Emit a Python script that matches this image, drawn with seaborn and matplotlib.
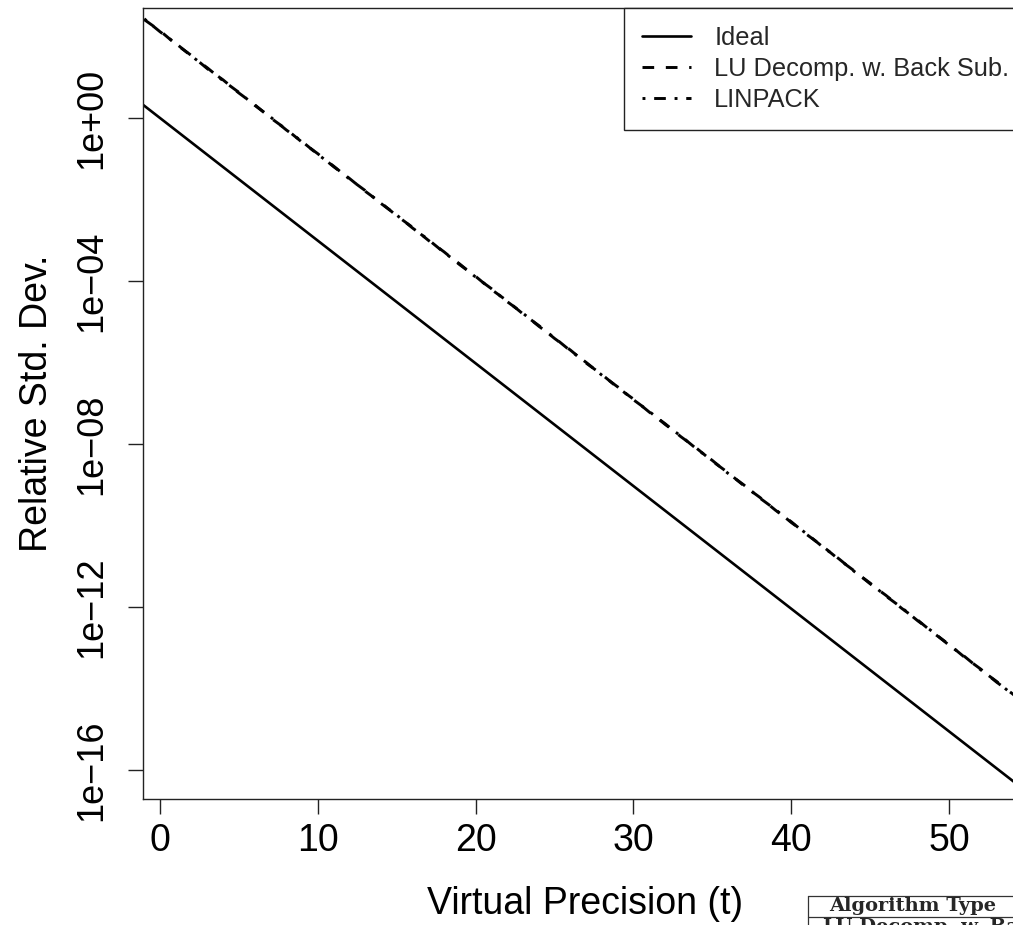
import matplotlib
import matplotlib.pyplot as plt
import pandas as pd
import seaborn as sns
from matplotlib.lines import Line2D

matplotlib.use("Agg")

# virtual precision (t) and relative std. dev.
t_vals = list(range(-1, 56))
lu_vals = [2.6e2, 1.38e2, 6.5e1, 3.4e1, 1.62e1, 8.6, 4.1, 2.12, 1.01, 5.3e-1,
           2.55e-1, 1.33e-1, 6.4e-2, 3.3e-2, 1.6e-2, 8.3e-3, 4.0e-3, 2.08e-3, 1.0e-3, 5.2e-4,
           2.5e-4, 1.3e-4, 6.2e-5, 3.25e-5, 1.56e-5, 8.1e-6, 3.9e-6, 2.03e-6, 9.7e-7, 5.1e-7,
           2.43e-7, 1.27e-7, 6.1e-8, 3.17e-8, 1.52e-8, 7.9e-9, 3.8e-9, 1.98e-9, 9.5e-10, 4.95e-10,
           2.38e-10, 1.24e-10, 5.95e-11, 3.1e-11, 1.49e-11, 7.7e-12, 3.72e-12, 1.94e-12, 9.3e-13, 4.84e-13,
           2.32e-13, 1.21e-13, 5.8e-14, 3.02e-14, 1.45e-14, 7.55e-15, 3.62e-15]
linpack_vals = [2.72e2, 1.31e2, 6.8e1, 3.28e1, 1.7e1, 8.2, 4.25, 2.05, 1.06, 5.1e-1,
                2.66e-1, 1.28e-1, 6.6e-2, 3.2e-2, 1.66e-2, 8.0e-3, 4.15e-3, 2.0e-3, 1.04e-3, 5.0e-4,
                2.6e-4, 1.25e-4, 6.5e-5, 3.12e-5, 1.62e-5, 7.8e-6, 4.05e-6, 1.95e-6, 1.01e-6, 4.9e-7,
                2.53e-7, 1.22e-7, 6.35e-8, 3.05e-8, 1.58e-8, 7.6e-9, 3.96e-9, 1.9e-9, 9.9e-10, 4.76e-10,
                2.47e-10, 1.19e-10, 6.2e-11, 2.98e-11, 1.55e-11, 7.45e-12, 3.87e-12, 1.86e-12, 9.65e-13, 4.65e-13,
                2.42e-13, 1.16e-13, 6.05e-14, 2.9e-14, 1.51e-14, 7.25e-15, 3.78e-15]
ideal_t = [-2, 56]
ideal_vals = [4.0, 1.39e-17]

labels = ["Ideal", "LU Decomp. w. Back Sub.", "LINPACK"]
x_ticks = [0, 10, 20, 30, 40, 50]
y_ticks = [1e-16, 1e-12, 1e-08, 1e-04, 1e+00]
y_tick_labels = ["1e\u221216", "1e\u221212", "1e\u221208", "1e\u221204", "1e+00"]

sns.set_style("white")
plt.rcParams["font.family"] = ["Liberation Sans", "DejaVu Sans"]

fig = plt.figure(figsize=(10.13, 9.25), dpi=100)
# axes run a little past the right edge of the picture (cropped like the source)
ax = fig.add_axes([143 / 1013, 1 - 799 / 925, 884 / 1013, 791 / 925])

ideal_df = pd.DataFrame({"t": ideal_t, "v": ideal_vals})
curves = pd.DataFrame({"t": t_vals, "lu": lu_vals, "linpack": linpack_vals})

sns.lineplot(data=ideal_df, x="t", y="v", ax=ax, color="black", linewidth=1.9)
sns.lineplot(data=curves, x="t", y="lu", ax=ax, color="black", linewidth=2.1,
             linestyle=(0, (4, 4)))
sns.lineplot(data=curves, x="t", y="linpack", ax=ax, color="black", linewidth=2.1,
             linestyle=(0, (1, 3, 4, 3)))

ax.set_yscale("log")
ax.set_xlim(-1.08, 54.94)
ax.set_ylim(10 ** -16.71, 10 ** 2.70)
ax.set_xticks(x_ticks)
ax.set_xticklabels([str(x) for x in x_ticks])
ax.set_yticks(y_ticks)
ax.set_yticklabels(y_tick_labels, rotation=90, va="center")
ax.minorticks_off()
ax.tick_params(axis="both", which="major", bottom=True, left=True, direction="out",
               length=11, width=1, color="#222222", labelcolor="black")
ax.tick_params(axis="x", labelsize=27, pad=6)
ax.tick_params(axis="y", labelsize=26, pad=13)
for s in ax.spines.values():
    s.set_color("#222222")
    s.set_linewidth(1)
    s.set_visible(True)

ax.set_xlabel("Virtual Precision (t)", fontsize=27, labelpad=20, color="black")
ax.set_ylabel("Relative Std. Dev.", fontsize=27, labelpad=14, color="black")

handles = [Line2D([], [], color="black", lw=1.9),
           Line2D([], [], color="black", lw=2.1, linestyle=(0, (4, 4))),
           Line2D([], [], color="black", lw=2.1, linestyle=(0, (1, 3, 4, 3)))]
leg = ax.legend(handles, labels, loc="upper right", fontsize=18.3, frameon=True,
                fancybox=False, framealpha=1, edgecolor="#222222", borderaxespad=0,
                handlelength=1.95, handletextpad=0.9, labelspacing=0.28,
                borderpad=0.7)
leg.get_frame().set_linewidth(1)

# piece of the table underneath, cut off by the crop
tab_font = ["DejaVu Serif", "Liberation Serif"]
fig.add_artist(Line2D([808 / 1013, 1.0], [1 - 896 / 925, 1 - 896 / 925], color="#333333", lw=0.9))
fig.add_artist(Line2D([808 / 1013, 1.0], [1 - 917 / 925, 1 - 917 / 925], color="#333333", lw=0.9))
fig.add_artist(Line2D([808 / 1013, 808 / 1013], [1 - 896 / 925, 0], color="#333333", lw=0.9))
fig.text(913 / 1013, 1 - 906 / 925, "Algorithm Type", family=tab_font, fontweight="bold",
         fontsize=14, ha="center", va="center")
fig.text(823 / 1013, 1 - 918 / 925, "LU Decomp. w. Back Sub.", family=tab_font,
         fontweight="bold", fontsize=14, ha="left", va="top")

plt.savefig("out.png", dpi=100)
plt.close()
